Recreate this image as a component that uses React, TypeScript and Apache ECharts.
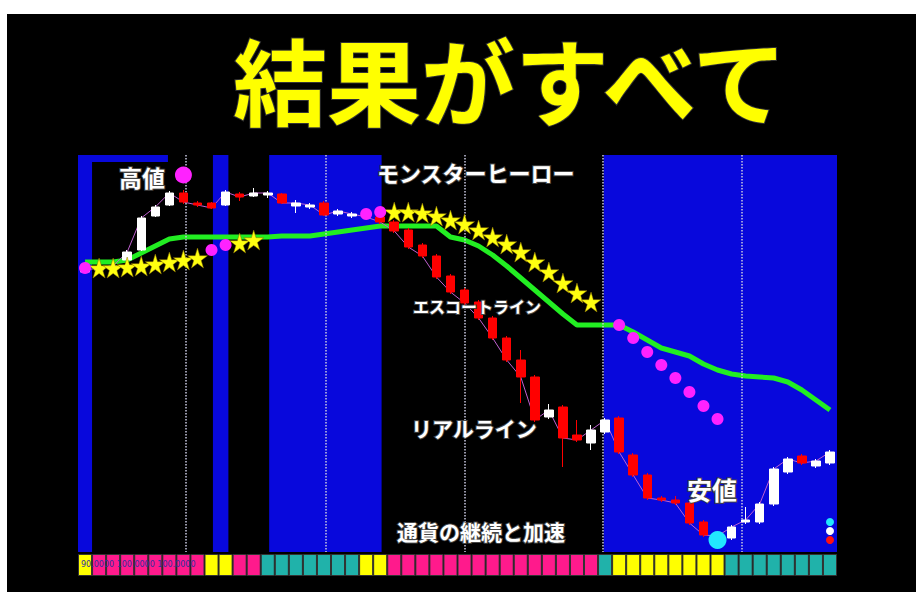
import React, { useEffect, useRef } from 'react';
import * as echarts from 'echarts';

// chart levels are read in picture rows (y axis is inverted), one entry per bar
const candles = [
  [272, 270, 273, 269], [270, 268, 271, 267], [268, 266, 269, 264], [260, 252, 261, 250],
  [250, 218, 251, 216], [216, 207, 217, 205], [205, 193, 206, 191], [193, 202, 204, 190],
  [203, 205, 207, 201], [203, 208, 209, 202], [205, 192, 206, 190], [194, 197, 201, 192],
  [196, 193, 197, 188], [195, 193, 198, 191], [194, 203, 204, 193], [206, 203, 213, 200],
  [207, 205, 209, 203], [203, 215, 216, 201], [214, 211, 216, 209], [216, 214, 218, 212],
  [214, 217, 219, 212], [217, 222, 224, 215], [222, 231, 233, 220], [230, 247, 249, 228],
  [245, 256, 258, 243], [256, 277, 279, 254], [276, 292, 294, 274], [290, 303, 305, 288],
  [302, 318, 320, 300], [318, 338, 340, 316], [338, 360, 362, 336], [360, 377, 403, 350],
  [377, 420, 422, 375], [417, 410, 419, 404], [407, 438, 467, 405], [435, 440, 442, 420],
  [443, 430, 450, 425], [432, 420, 434, 418], [418, 452, 454, 416], [455, 475, 477, 453],
  [475, 498, 500, 473], [498, 500, 502, 496], [500, 503, 505, 496], [503, 523, 525, 501],
  [522, 535, 537, 520], [540, 536, 542, 532], [538, 527, 540, 525], [522, 520, 524, 507],
  [522, 504, 524, 502], [504, 469, 506, 467], [472, 459, 474, 457], [456, 463, 465, 454],
  [466, 461, 468, 459], [463, 452, 465, 450],
];
const categories = candles.map((_, i) => String(i + 1));

const escortLine = [
  262, 262, 262, 260, 253, 246, 239, 237, 237, 237, 237, 237, 237, 237, 236, 236, 236, 234,
  232, 230, 228, 226, 226, 226, 226, 226, 237, 240, 246, 255, 266, 278, 290, 302, 314, 325,
  325, 325, 325, 332, 340, 348, 352, 356, 364, 370, 374, 376, 377, 378, 382, 390, 400, 410,
];

const stars = [
  '-', 268, 268, 267, 266, 264, 262, 260, 258, '-', '-', 243, 240, '-', '-', '-', '-', '-',
  '-', '-', '-', '-', 212, 212, 213, 216, 220, 224, 230, 237, 244, 252, 262, 272, 283, 293,
  302, '-', '-', '-', '-', '-', '-', '-', '-', '-', '-', '-', '-', '-', '-', '-', '-', '-',
];

const dots = [
  268, '-', '-', '-', '-', '-', '-', 175, '-', 250, 245, '-', '-', '-', '-', '-', '-', '-',
  '-', '-', 214, 212, '-', '-', '-', '-', '-', '-', '-', '-', '-', '-', '-', '-', '-', '-',
  '-', '-', 325, 338, 352, 365, 378, 392, 406, 419, '-', '-', '-', '-', '-', '-', '-', '-',
];

// 0 yellow, 1 pink, 2 teal
const strip = [
  0, 1, 1, 1, 1, 1, 1, 1, 1, 0, 0, 1, 1, 2, 2, 2, 2, 2, 2, 2, 0, 0, 1, 1, 1, 1, 1, 1,
  1, 1, 1, 1, 1, 1, 1, 1, 1, 2, 0, 0, 0, 0, 0, 0, 0, 0, 2, 2, 2, 2, 2, 2, 2, 2,
];
const stripColors = ['#ffff00', '#ff1a8c', '#20b2aa'];

// blue sessions in bar units
const blueBands = [[0, 1], [9.6, 10.7], [13.6, 21.6], [37.4, 54]];
const dottedLines = [7.7, 17.6, 27.5, 37.3, 47.2];

const starPath = 'path://M50,0 L61,35 L98,35 L68,57 L79,91 L50,70 L21,91 L32,57 L2,35 L39,35 Z';

const labelStyle = {
  fill: '#ffffff',
  fontFamily: '"Noto Sans CJK JP"',
  fontWeight: 'bold',
  stroke: '#444',
  lineWidth: 2,
};

const App: React.FC = () => {
  const chartRef = useRef<HTMLDivElement>(null);

  useEffect(() => {
    document.body.style.margin = '0';
    if (!chartRef.current) return;
    const chart = echarts.init(chartRef.current, null, { renderer: 'svg' });
    const text = (x: number, y: number, t: string, size: number) => ({
      type: 'text', left: x, top: y, z: 100,
      style: { ...labelStyle, text: t, fontSize: size },
    });
    const option: any = {
      animation: false,
      backgroundColor: '#000',
      grid: [
        { left: 78, right: 79, top: 155, bottom: 40 },
        { left: 78, right: 79, top: 554, height: 22 },
      ],
      xAxis: [
        { type: 'category', data: categories, gridIndex: 0, show: false },
        { type: 'value', min: 0, max: 54, gridIndex: 0, show: false },
        { type: 'category', data: categories, gridIndex: 1, show: false },
      ],
      yAxis: [
        { type: 'value', inverse: true, min: 155, max: 552, gridIndex: 0, show: false },
        { type: 'value', min: 0, max: 1, gridIndex: 1, show: false },
      ],
      series: [
        {
          type: 'line', xAxisIndex: 1, yAxisIndex: 0, data: [[0, 600]], symbol: 'none',
          lineStyle: { opacity: 0 }, z: 0,
          markArea: {
            silent: true,
            itemStyle: { color: '#0808dc' },
            data: [
              ...blueBands.map(([a, b]) => [{ xAxis: a, yAxis: 155 }, { xAxis: b, yAxis: 552 }]),
              [{ xAxis: 0, yAxis: 155 }, { xAxis: 6.4, yAxis: 162 }],
            ],
          },
          markLine: {
            silent: true, symbol: 'none', label: { show: false },
            lineStyle: { color: '#c8c8e0', type: 'dotted', width: 1.5 },
            data: dottedLines.map((x) => ({ xAxis: x })),
          },
        },
        {
          type: 'line', data: escortLine, symbol: 'none', z: 3,
          lineStyle: { color: '#22ee22', width: 5 },
        },
        {
          type: 'line', data: candles.map((c) => c[1]), symbol: 'none', z: 4,
          lineStyle: { color: '#c060d0', width: 1 },
        },
        {
          type: 'candlestick', data: candles, barWidth: 9, z: 5,
          itemStyle: { color: '#ff0000', color0: '#ffffff', borderColor: '#ff0000', borderColor0: '#ffffff', borderWidth: 1 },
        },
        {
          type: 'scatter', data: stars, symbol: starPath, symbolSize: 20, z: 6,
          itemStyle: { color: '#ffff10', borderColor: '#8a7000', borderWidth: 0.5, opacity: 1 },
        },
        {
          type: 'scatter', data: dots, z: 6,
          symbolSize: (v: any, p: any) => (p.dataIndex === 7 ? 17 : 12),
          itemStyle: { color: '#ff22ff', opacity: 1 },
        },
        {
          type: 'scatter', z: 7, symbolSize: 18,
          data: [[45, 540]], itemStyle: { color: '#22e8ff', opacity: 1 },
        },
        {
          type: 'scatter', z: 7, symbolSize: 8,
          data: [
            { value: [53, 522], itemStyle: { color: '#22e8ff' } },
            { value: [53, 531], itemStyle: { color: '#ffffff' } },
            { value: [53, 540], itemStyle: { color: '#ff1010' } },
          ],
          itemStyle: { opacity: 1 },
        },
        {
          type: 'bar', xAxisIndex: 2, yAxisIndex: 1, barCategoryGap: '0%',
          data: strip.map((s) => ({ value: 1, itemStyle: { color: stripColors[s] } })),
          itemStyle: { borderColor: '#333', borderWidth: 1 },
        },
      ],
      graphic: [
        { type: 'rect', shape: { x: 0, y: 0, width: 916, height: 14 }, style: { fill: '#fff' } },
        { type: 'rect', shape: { x: 0, y: 0, width: 7, height: 592 }, style: { fill: '#fff' } },
        {
          type: 'text', left: 232, top: 30, z: 100,
          style: {
            text: '結果がすべて', fill: '#ffff00', fontSize: 94, fontWeight: 'bold',
            fontFamily: '"Noto Sans CJK JP"', stroke: '#333', lineWidth: 2,
          },
        },
        text(118, 164, '高値', 23),
        text(376, 160, 'モンスターヒーロー', 22),
        text(412, 297, 'エスコートライン', 16),
        text(410, 416, 'リアルライン', 21),
        text(686, 475, '安値', 25),
        text(396, 519, '通貨の継続と加速', 21),
        {
          type: 'text', left: 81, top: 560, z: 100,
          style: { text: '90.0000 100.0000 100.0000', fill: '#3030a0', fontSize: 8, fontFamily: 'DejaVu Sans' },
        },
      ],
    };
    chart.setOption(option);
    return () => chart.dispose();
  }, []);

  return <div ref={chartRef} style={{ width: 916, height: 592 }}></div>;
};

export default App;
